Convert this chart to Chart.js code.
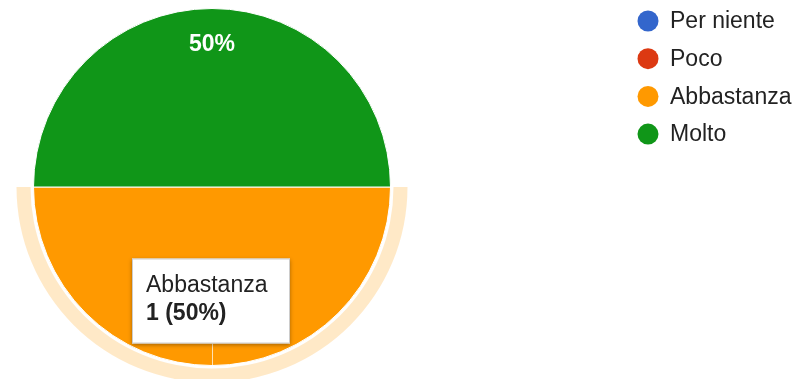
<!DOCTYPE html>
<html>
<head>
  <title>Risposte</title>
  <script src="https://cdn.jsdelivr.net/npm/chart.js"></script>
  <style>
    body { margin: 0; background: #fff; }
    #wrap { width: 802px; height: 379px; }
  </style>
</head>
<body>
  <div id="wrap"><canvas id="chart" width="802" height="379"></canvas></div>
  <script>
    const labels = ['Per niente', 'Poco', 'Abbastanza', 'Molto'];
    const counts = [0, 0, 1, 1];
    const colors = ['#3366cc', '#dc3912', '#ff9900', '#109618'];
    const activeIndex = 2; // slice shown with its tooltip

    const FONT = 'Arial, "Liberation Sans", sans-serif';

    // hover ring, percent labels, legend and tooltip
    const extras = {
      id: 'extras',
      afterDatasetsDraw(chart) {
        const ctx = chart.ctx;
        const meta = chart.getDatasetMeta(0);
        const total = counts.reduce((a, b) => a + b, 0);

        const hot = meta.data[activeIndex];
        ctx.save();
        ctx.beginPath();
        ctx.arc(hot.x, hot.y, hot.outerRadius + 17, hot.startAngle, hot.endAngle);
        ctx.arc(hot.x, hot.y, hot.outerRadius + 3, hot.endAngle, hot.startAngle, true);
        ctx.closePath();
        ctx.fillStyle = 'rgba(255,153,0,0.22)';
        ctx.fill();

        ctx.fillStyle = '#ffffff';
        ctx.font = 'bold 23px ' + FONT;
        ctx.textAlign = 'center';
        ctx.textBaseline = 'middle';
        meta.data.forEach((arc, i) => {
          if (!counts[i]) return;
          const mid = (arc.startAngle + arc.endAngle) / 2;
          const r = arc.outerRadius * 0.8;
          const pct = Math.round(counts[i] / total * 100) + '%';
          ctx.fillText(pct, arc.x + Math.cos(mid) * r, arc.y + Math.sin(mid) * r);
        });
        ctx.restore();
      },
      afterDraw(chart) {
        const ctx = chart.ctx;
        const meta = chart.getDatasetMeta(0);
        const total = counts.reduce((a, b) => a + b, 0);

        // legend
        ctx.save();
        ctx.font = '23px ' + FONT;
        ctx.textBaseline = 'middle';
        ctx.textAlign = 'left';
        labels.forEach((lab, i) => {
          const y = 21 + i * 37.7;
          ctx.beginPath();
          ctx.arc(648, y, 10.5, 0, Math.PI * 2);
          ctx.fillStyle = colors[i];
          ctx.fill();
          ctx.fillStyle = '#222222';
          ctx.fillText(lab, 670, y + 1);
        });

        // tooltip
        const hot = meta.data[activeIndex];
        const mid = (hot.startAngle + hot.endAngle) / 2;
        const ex = hot.x + Math.cos(mid) * hot.outerRadius;
        const ey = hot.y + Math.sin(mid) * hot.outerRadius;
        const boxW = 158, boxH = 85;
        const bx = ex - boxW / 2 - 1, by = ey - 22 - boxH;

        ctx.strokeStyle = 'rgba(255,255,255,0.7)';
        ctx.lineWidth = 1;
        ctx.beginPath();
        ctx.moveTo(ex + 0.5, by + boxH);
        ctx.lineTo(ex + 0.5, ey);
        ctx.stroke();

        ctx.shadowColor = 'rgba(0,0,0,0.35)';
        ctx.shadowBlur = 4;
        ctx.shadowOffsetY = 1;
        ctx.fillStyle = '#ffffff';
        ctx.fillRect(bx, by, boxW, boxH);
        ctx.shadowColor = 'transparent';
        ctx.strokeStyle = '#cccccc';
        ctx.strokeRect(bx + 0.5, by + 0.5, boxW - 1, boxH - 1);

        ctx.textBaseline = 'alphabetic';
        ctx.fillStyle = '#222222';
        ctx.font = '23px ' + FONT;
        ctx.fillText(labels[activeIndex], bx + 14, by + 33);
        ctx.font = 'bold 23px ' + FONT;
        const pct = Math.round(counts[activeIndex] / total * 100);
        ctx.fillText(counts[activeIndex] + ' (' + pct + '%)', bx + 14, by + 61);
        ctx.restore();
      }
    };

    new Chart(document.getElementById('chart').getContext('2d'), {
      type: 'pie',
      data: {
        labels: labels,
        datasets: [{
          data: counts,
          backgroundColor: colors,
          borderColor: '#ffffff',
          borderWidth: 1
        }]
      },
      options: {
        responsive: false,
        animation: false,
        rotation: 90,
        layout: { padding: { left: 33, right: 411, top: 8, bottom: 13 } },
        plugins: {
          legend: { display: false },
          tooltip: { enabled: false }
        },
        events: []
      },
      plugins: [extras]
    });
  </script>
</body>
</html>
